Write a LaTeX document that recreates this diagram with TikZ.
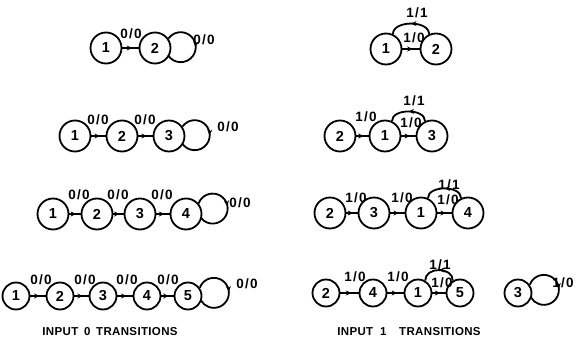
\documentclass[tikz,border=0pt]{standalone}
\usepackage{fontspec}
\setmainfont{Liberation Sans}
\newfontfamily\labfont[LetterSpace=10]{Liberation Sans}
\newfontfamily\ttlfont[LetterSpace=3]{Liberation Sans}
\usetikzlibrary{decorations.markings,arrows.meta,backgrounds}
\tikzset{
 st/.style={circle,draw,line width=1.8pt,minimum size=31pt,inner sep=0pt,fill=white,font=\fontsize{14.5}{14.5}\selectfont\bfseries},
 sts/.style={st,minimum size=27pt},
 lab/.style={inner sep=0pt,font=\labfont\fontsize{13.5}{13.5}\selectfont\bfseries},
 ttl/.style={inner sep=0pt,font=\ttlfont\fontsize{11.5}{11.5}\selectfont\bfseries},
 ed/.style={line width=1.8pt,postaction={decorate},decoration={markings,mark=at position #1 with {\arrow{Stealth[length=5.5pt,width=5pt]}}}},
 ed/.default=0.6,
}
\begin{document}
\begin{tikzpicture}[x=1pt,y=1pt]
\useasboundingbox (0,0) rectangle (587,343);
% ---------- left column ----------
\node[st] (L1a) at (106,295) {1};
\node[st] (L1b) at (155,295) {2};
\node[st] (L2a) at (75,207) {1};
\node[st] (L2b) at (122,207) {2};
\node[st] (L2c) at (169,207) {3};
\node[st] (L3a) at (53,129) {1};
\node[st] (L3b) at (97,129) {2};
\node[st] (L3c) at (140,129) {3};
\node[st] (L3d) at (186,129) {4};
\node[sts] (L4a) at (16,47) {1};
\node[sts] (L4b) at (60,47) {2};
\node[sts] (L4c) at (103,47) {3};
\node[sts] (L4d) at (147,47) {4};
\node[sts] (L4e) at (188,47) {5};
% ---------- right column ----------
\node[st] (R1a) at (386,294) {1};
\node[st] (R1b) at (436,294) {2};
\node[st] (R2b) at (340,207) {2};
\node[st] (R2a) at (385,207) {1};
\node[st] (R2c) at (432,207) {3};
\node[st] (R3b) at (330,130) {2};
\node[st] (R3c) at (374,130) {3};
\node[st] (R3a) at (421,130) {1};
\node[st] (R3d) at (468,130) {4};
\node[sts] (R4b) at (326,50) {2};
\node[sts] (R4d) at (373,50) {4};
\node[sts] (R4a) at (418,50) {1};
\node[sts] (R4e) at (460,50) {5};
\node[sts] (R4c) at (518,50) {3};
\begin{scope}[on background layer]
 % left
 \draw[ed] (L1a) -- (L1b);
 \draw[ed=0.5] (L1b.35) arc[start angle=145,end angle=-145,radius=15];
 \draw[ed] (L2a) -- (L2b);
 \draw[ed] (L2b) -- (L2c);
 \draw[ed=0.5] (L2c.35) arc[start angle=145,end angle=-145,radius=15];
 \draw[ed] (L3a) -- (L3b);
 \draw[ed] (L3b) -- (L3c);
 \draw[ed] (L3c) -- (L3d);
 \draw[ed=0.5] (L3d.40) arc[start angle=160,end angle=-140,radius=15];
 \draw[ed] (L4a) -- (L4b);
 \draw[ed] (L4b) -- (L4c);
 \draw[ed] (L4c) -- (L4d);
 \draw[ed] (L4d) -- (L4e);
 \draw[ed=0.5] (L4e.35) arc[start angle=160,end angle=-150,radius=15];
 % right
 \draw[ed] (R1a) -- (R1b);
 \draw[ed=0.5] (R1b.115) to[out=90,in=90] (R1a.65);
 \draw[ed] (R2b) -- (R2a);
 \draw[ed] (R2a) -- (R2c);
 \draw[ed=0.5] (R2c.115) to[out=90,in=90] (R2a.65);
 \draw[ed] (R3b) -- (R3c);
 \draw[ed] (R3c) -- (R3a);
 \draw[ed] (R3a) -- (R3d);
 \draw[ed=0.5] (R3d.115) to[out=90,in=90] (R3a.65);
 \draw[ed] (R4b) -- (R4d);
 \draw[ed] (R4d) -- (R4a);
 \draw[ed] (R4a) -- (R4e);
 \draw[ed=0.5] (R4e.120) to[out=90,in=90,looseness=1.3] (R4a.60);
 \draw[ed=0.5] (R4c.35) arc[start angle=160,end angle=-150,radius=15];
\end{scope}
% labels left
\node[lab] (t1) at (131,309) {0/0};
\node[lab] (t2) at (204,303) {0/0};
\node[lab] (t3) at (98,223) {0/0};
\node[lab] (t4) at (145,223) {0/0};
\node[lab] (t5) at (228,216) {0/0};
\node[lab] (t6) at (79,148) {0/0};
\node[lab] (t7) at (118,148) {0/0};
\node[lab] (t8) at (162,148) {0/0};
\node[lab] (t9) at (240,140) {0/0};
\node[lab] (t10) at (41,63) {0/0};
\node[lab] (t11) at (85,63) {0/0};
\node[lab] (t12) at (127,63) {0/0};
\node[lab] (t13) at (168,63) {0/0};
\node[lab] (t14) at (247,59) {0/0};
% labels right
\node[lab] (u1) at (414,305) {1/0};
\node[lab] (u2) at (417,330) {1/1};
\node[lab] (u3) at (366,226) {1/0};
\node[lab] (u4) at (411,220) {1/0};
\node[lab] (u5) at (414,242) {1/1};
\node[lab] (u6) at (356,145) {1/0};
\node[lab] (u7) at (402,145) {1/0};
\node[lab] (u8) at (448,143) {1/0};
\node[lab] (u9) at (449,158) {1/1};
\node[lab] (u10) at (355,66) {1/0};
\node[lab] (u11) at (398,66) {1/0};
\node[lab] (u12) at (442,60) {1/0};
\node[lab] (u13) at (440,78) {1/1};
\node[lab] (u14) at (563,60) {1/0};
% titles
\node[ttl] (T0) at (110,11) {INPUT\hspace{0.5em}0\hspace{0.5em}TRANSITIONS};
\node[ttl] (T1) at (409,11) {INPUT\hspace{0.6em}1\hspace{1.1em}TRANSITIONS};
\end{tikzpicture}
\end{document}
